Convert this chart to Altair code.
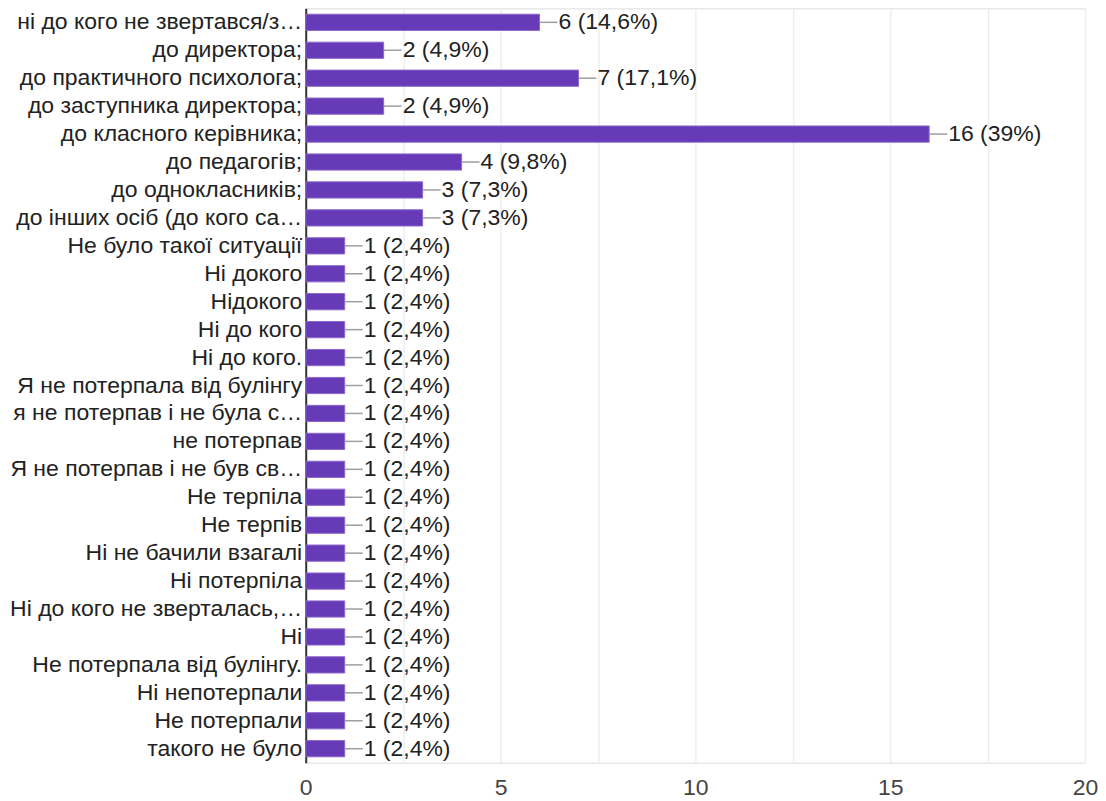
import altair as alt
import pandas as pd

categories = [
    "ні до кого не звертався/з…",
    "до директора;",
    "до практичного психолога;",
    "до заступника директора;",
    "до класного керівника;",
    "до педагогів;",
    "до однокласників;",
    "до інших осіб (до кого са…",
    "Не було такої ситуації",
    "Ні докого",
    "Нідокого",
    "Ні до кого",
    "Ні до кого.",
    "Я не потерпала від булінгу",
    "я не потерпав і не була с…",
    "не потерпав",
    "Я не потерпав і не був св…",
    "Не терпіла",
    "Не терпів",
    "Ні не бачили взагалі",
    "Ні потерпіла",
    "Ні до кого не зверталась,…",
    "Ні",
    "Не потерпала від булінгу.",
    "Ні непотерпали",
    "Не потерпали",
    "такого не було",
]
counts = [6, 2, 7, 2, 16, 4, 3, 3] + [1] * 19
percents = ["14,6", "4,9", "17,1", "4,9", "39", "9,8", "7,3", "7,3"] + ["2,4"] * 19

df = pd.DataFrame({
    "cat": categories,
    "count": counts,
    "label": [f"{c} ({p}%)" for c, p in zip(counts, percents)],
})

FONT = "Liberation Sans"
FS = 23

y_enc = alt.Y("cat:N", sort=categories, title=None,
              scale=alt.Scale(paddingInner=0.42, paddingOuter=0.21),
              axis=alt.Axis(ticks=False, labelFontSize=FS, labelColor="#222222",
                            labelFont=FONT, labelPadding=4, labelLimit=300,
                            domainColor="#333333", domainWidth=2,
                            minExtent=298, maxExtent=298, grid=False))
x_enc = alt.X("count:Q", title=None,
              scale=alt.Scale(domain=[0, 20], nice=False),
              axis=alt.Axis(values=[0, 2.5, 5, 7.5, 10, 12.5, 15, 17.5, 20],
                            labelExpr="datum.value % 5 == 0 ? datum.label : ''",
                            ticks=False, domain=False, grid=True,
                            gridColor="#eeeeee", gridWidth=1.5,
                            labelFontSize=FS, labelColor="#444444",
                            labelFont=FONT, labelPadding=14, labelFlush=False))

base = alt.Chart(df)

bars = base.mark_bar(color="#673ab7", stroke="#8a66c9", strokeWidth=1).encode(y=y_enc, x=x_enc)

rules = base.mark_rule(color="#9e9e9e", strokeWidth=1.5, x2Offset=18).encode(
    y=alt.Y("cat:N", sort=categories),
    x="count:Q",
    x2="count:Q",
)

texts = base.mark_text(align="left", baseline="middle", dx=19, fontSize=FS,
                       font=FONT, color="#222222").encode(
    y=alt.Y("cat:N", sort=categories),
    x="count:Q",
    text="label:N",
)

chart = (bars + rules + texts).properties(
    width=780, height=755, padding=0
).configure_view(stroke="#eeeeee", strokeWidth=1.5).configure(background="white")

chart.save("out.html", embed_options={"renderer": "svg", "actions": False})
